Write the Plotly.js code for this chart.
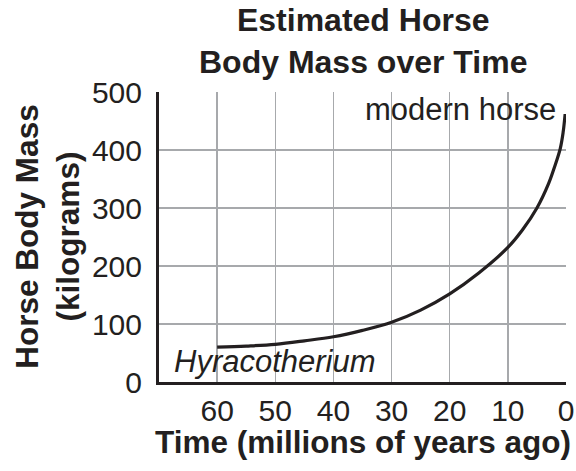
<!DOCTYPE html>
<html>
<head>
<meta charset="utf-8">
<script src="https://cdn.plot.ly/plotly-3.0.1.min.js"></script>
<style>
html,body{margin:0;padding:0;background:#fff;}
#chart{width:576px;height:471px;}
</style>
</head>
<body>
<div id="chart"></div>
<script>
// Time (millions of years ago)
const timeMya = [60, 55, 50, 45, 40, 35, 30, 25, 20, 15, 10, 7.5, 5, 3, 2, 1, 0.5, 0.15];
// Estimated horse body mass (kg)
const bodyMassKg = [60, 62, 65, 71, 78, 89, 103, 124, 152, 188, 232, 262, 300, 342, 370, 402, 430, 462];
const xTicks = [60, 50, 40, 30, 20, 10, 0];
const yTicks = [0, 100, 200, 300, 400, 500];
const titleLines = ["Estimated Horse", "Body Mass over Time"];
const xTitle = "Time (millions of years ago)";
const yTitleLines = ["Horse Body Mass", "(kilograms)"];
const labelStart = "Hyracotherium";
const labelEnd = "modern horse";

const ink = "#231f20";
const gridCol = "#a7a9ac";
const font = "Liberation Sans, Arial, sans-serif";

const trace = {
  x: timeMya,
  y: bodyMassKg,
  type: "scatter",
  mode: "lines",
  line: {color: ink, width: 3.2, shape: "spline", smoothing: 1},
  hoverinfo: "skip",
  showlegend: false
};

const layout = {
  width: 576,
  height: 471,
  margin: {l: 159, r: 10, t: 92, b: 89},
  paper_bgcolor: "#fff",
  plot_bgcolor: "#fff",
  font: {family: font, color: ink, size: 30},
  xaxis: {
    range: [70, 0],
    autorange: false,
    tickvals: xTicks,
    ticktext: xTicks.map(String),
    ticks: "",
    showgrid: true,
    gridcolor: gridCol,
    gridwidth: 1.5,
    zeroline: false,
    showline: true,
    linecolor: ink,
    linewidth: 3,
    mirror: false,
    tickfont: {family: font, size: 30, color: ink},
    ticklabelstandoff: 0,
    fixedrange: true
  },
  yaxis: {
    range: [0, 500],
    autorange: false,
    tickvals: yTicks,
    ticktext: yTicks.map(String),
    ticks: "",
    showgrid: true,
    gridcolor: gridCol,
    gridwidth: 1.5,
    zeroline: false,
    showline: true,
    linecolor: ink,
    linewidth: 3,
    mirror: false,
    tickfont: {family: font, size: 30, color: ink},
    ticklabelstandoff: 8,
    fixedrange: true
  },
  annotations: [
    {
      text: "<b>" + titleLines.join("<br>") + "</b>", xref: "paper", yref: "paper", x: 0.5, y: 1.176,
      xanchor: "center", yanchor: "middle", showarrow: false,
      font: {family: font, size: 32, color: ink}
    },
    {
      text: labelEnd, xref: "paper", yref: "paper", x: 0.98, y: 0.94,
      xanchor: "right", yanchor: "middle", showarrow: false,
      font: {family: font, size: 31, color: ink}
    },
    {
      text: "<i>" + labelStart + "</i>", xref: "paper", yref: "paper", x: 0.033, y: 0.072,
      xanchor: "left", yanchor: "middle", showarrow: false,
      font: {family: font, size: 31, color: ink}
    },
    {
      text: "<b>" + xTitle + "</b>", xref: "paper", yref: "paper", x: 0.5, y: -0.207,
      xanchor: "center", yanchor: "middle", showarrow: false,
      font: {family: font, size: 31.5, color: ink}
    },
    {
      text: "<b>" + yTitleLines.join("<br>") + "</b>", xref: "paper", yref: "paper", x: -0.276, y: 0.5,
      xanchor: "center", yanchor: "middle", showarrow: false, textangle: -90,
      font: {family: font, size: 31.5, color: ink}
    }
  ]
};

Plotly.newPlot("chart", [trace], layout, {staticPlot: true, displayModeBar: false});
</script>
</body>
</html>
